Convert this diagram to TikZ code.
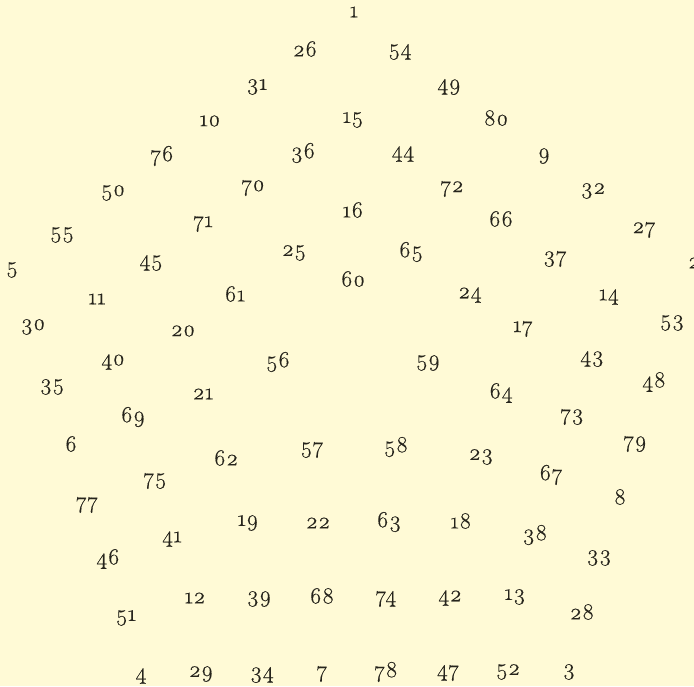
\documentclass[tikz,border=0pt]{standalone}
\usepackage{fontspec}
\setmainfont{Latin Modern Roman}[Numbers=OldStyle,FakeBold=0.4,LetterSpace=1.5]
\definecolor{paper}{RGB}{255,250,214}
\definecolor{ink}{RGB}{38,36,28}
\tikzset{num/.style={inner sep=0pt, anchor=center, text=ink, font=\fontsize{23}{25}\selectfont}}
\begin{document}
\begin{tikzpicture}[x=1pt,y=-1pt]
\useasboundingbox (0,0) rectangle (694,686);
\fill[paper] (0,0) rectangle (694,686);
\clip (0,0) rectangle (694,686);
\node[num] (n1) at (354,12) {1};
\node[num] (n26) at (305,49) {26};
\node[num] (n54) at (400,52) {54};
\node[num] (n31) at (257,87) {31};
\node[num] (n49) at (449,87) {49};
\node[num] (n10) at (210,121) {10};
\node[num] (n15) at (353,120) {15};
\node[num] (n80) at (496,118) {80};
\node[num] (n76) at (162,156) {76};
\node[num] (n36) at (303,153) {36};
\node[num] (n44) at (403,154) {44};
\node[num] (n9) at (544,156) {9};
\node[num] (n50) at (113,193) {50};
\node[num] (n70) at (253,188) {70};
\node[num] (n72) at (452,189) {72};
\node[num] (n32) at (593,191) {32};
\node[num] (n16) at (353,210) {16};
\node[num] (n66) at (501,219) {66};
\node[num] (n71) at (203,224) {71};
\node[num] (n55) at (62,235) {55};
\node[num] (n27) at (644,230) {27};
\node[num] (n5) at (12,270) {5};
\node[num] (n45) at (151,263) {45};
\node[num] (n25) at (294,253) {25};
\node[num] (n65) at (411,252) {65};
\node[num] (n37) at (555,259) {37};
\node[num] (n2) at (694,263) {2};
\node[num] (n11) at (97,299) {11};
\node[num] (n61) at (235,294) {61};
\node[num] (n60) at (353,279) {60};
\node[num] (n24) at (470,295) {24};
\node[num] (n14) at (609,297) {14};
\node[num] (n30) at (33,327) {30};
\node[num] (n20) at (183,331) {20};
\node[num] (n17) at (523,329) {17};
\node[num] (n53) at (672,323) {53};
\node[num] (n40) at (113,362) {40};
\node[num] (n56) at (278,362) {56};
\node[num] (n59) at (428,363) {59};
\node[num] (n43) at (592,359) {43};
\node[num] (n35) at (52,387) {35};
\node[num] (n21) at (203,394) {21};
\node[num] (n64) at (501,393) {64};
\node[num] (n48) at (654,382) {48};
\node[num] (n69) at (133,417) {69};
\node[num] (n73) at (572,417) {73};
\node[num] (n6) at (71,444) {6};
\node[num] (n62) at (226,458) {62};
\node[num] (n57) at (312,450) {57};
\node[num] (n58) at (396,447) {58};
\node[num] (n23) at (481,457) {23};
\node[num] (n79) at (635,444) {79};
\node[num] (n75) at (155,481) {75};
\node[num] (n67) at (551,475) {67};
\node[num] (n77) at (87,505) {77};
\node[num] (n8) at (620,497) {8};
\node[num] (n19) at (248,523) {19};
\node[num] (n22) at (318,523) {22};
\node[num] (n63) at (389,522) {63};
\node[num] (n18) at (461,521) {18};
\node[num] (n41) at (172,539) {41};
\node[num] (n38) at (535,535) {38};
\node[num] (n46) at (108,559) {46};
\node[num] (n33) at (599,558) {33};
\node[num] (n12) at (195,598) {12};
\node[num] (n39) at (259,599) {39};
\node[num] (n68) at (322,596) {68};
\node[num] (n74) at (386,599) {74};
\node[num] (n42) at (450,598) {42};
\node[num] (n13) at (515,597) {13};
\node[num] (n51) at (126,618) {51};
\node[num] (n28) at (582,612) {28};
\node[num] (n4) at (141,676) {4};
\node[num] (n29) at (201,674) {29};
\node[num] (n34) at (262,675) {34};
\node[num] (n7) at (322,674) {7};
\node[num] (n78) at (386,672) {78};
\node[num] (n47) at (448,673) {47};
\node[num] (n52) at (508,672) {52};
\node[num] (n3) at (569,672) {3};
\end{tikzpicture}
\end{document}
